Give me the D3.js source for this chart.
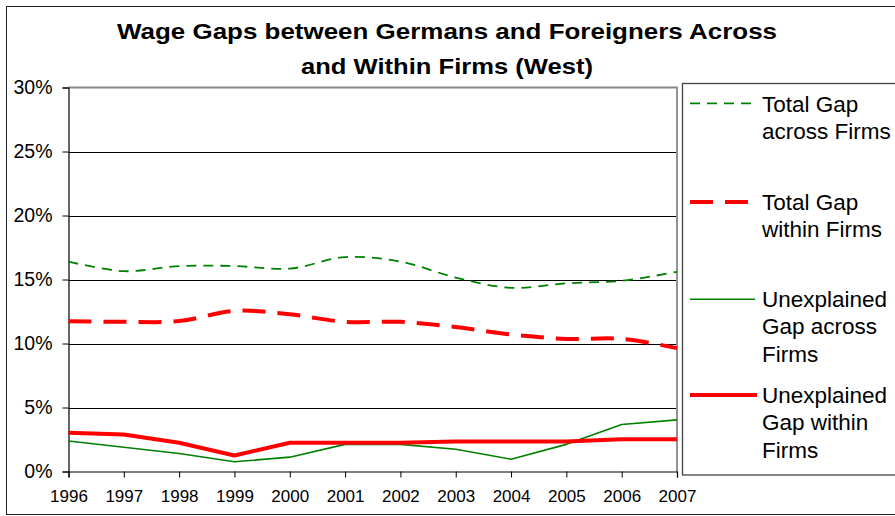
<!DOCTYPE html>
<html>
<head>
<meta charset="utf-8">
<script src="https://cdn.jsdelivr.net/npm/d3@7"></script>
<style>
  html, body { margin: 0; padding: 0; background: #fff; }
  svg { display: block; }
  text { font-family: "Liberation Sans", Arial, sans-serif; fill: #000; }
</style>
</head>
<body>
<svg id="chart" width="895" height="516"></svg>
<script>
const years = [1996, 1997, 1998, 1999, 2000, 2001, 2002, 2003, 2004, 2005, 2006, 2007];
const totalGapAcross = [16.4, 15.65, 16.05, 16.05, 15.85, 16.75, 16.4, 15.15, 14.35, 14.7, 14.9, 15.6];
const totalGapWithin = [11.74, 11.69, 11.75, 12.55, 12.28, 11.69, 11.69, 11.29, 10.7, 10.36, 10.36, 9.64];
const unexplainedAcross = [2.38, 1.9, 1.41, 0.76, 1.12, 2.12, 2.12, 1.74, 0.96, 2.12, 3.67, 4.03];
const unexplainedWithin = [3.02, 2.89, 2.25, 1.25, 2.25, 2.25, 2.25, 2.35, 2.35, 2.35, 2.51, 2.51];
const yTicks = [0, 5, 10, 15, 20, 25, 30];
const titleLines = ["Wage Gaps between Germans and Foreigners Across", "and Within Firms (West)"];
const seriesNames = [
  ["Total Gap", "across Firms"],
  ["Total Gap", "within Firms"],
  ["Unexplained", "Gap across", "Firms"],
  ["Unexplained", "Gap within", "Firms"]
];

(function () {
const series = [
  { values: totalGapAcross, color: "#008000", width: 1.8, dash: "10,7", smooth: true },
  { values: totalGapWithin, color: "#ff0000", width: 4, dash: "23,12", smooth: true },
  { values: unexplainedAcross, color: "#008000", width: 1.6, dash: null, smooth: false },
  { values: unexplainedWithin, color: "#ff0000", width: 4, dash: null, smooth: false }
];

const svg = d3.select("#chart");

// outer chart border
svg.append("rect").attr("x", 6.5).attr("y", 6.5).attr("width", 900).attr("height", 508)
  .attr("fill", "none").attr("stroke", "#222").attr("stroke-width", 1);

const pLeft = 68.5, pRight = 677, pTop = 87.5, pBottom = 471.5;
const x = d3.scaleLinear().domain([years[0], years[years.length - 1]]).range([pLeft, pRight]);
const y = d3.scaleLinear().domain([0, 30]).range([pBottom, pTop]);

// title
const titleG = svg.append("g");
const titleWidths = [660, 292];
const titleBase = [38.5, 74];
titleLines.forEach((t, i) => {
  titleG.append("text")
    .attr("x", 447).attr("y", titleBase[i])
    .attr("text-anchor", "middle")
    .attr("font-size", 21.5).attr("font-weight", "bold")
    .attr("textLength", titleWidths[i]).attr("lengthAdjust", "spacingAndGlyphs")
    .text(t);
});

// gridlines
svg.append("g").selectAll("line").data(yTicks.filter(d => d > 0 && d < 30)).join("line")
  .attr("x1", pLeft).attr("x2", pRight)
  .attr("y1", d => Math.round(y(d)) + 0.5).attr("y2", d => Math.round(y(d)) + 0.5)
  .attr("stroke", "#000").attr("stroke-width", 1);

// plot border (top, right) gray
svg.append("path")
  .attr("d", `M${pLeft},${y(30)}H${pRight}V${pBottom}`)
  .attr("fill", "none").attr("stroke", "#888").attr("stroke-width", 1.8);

// y axis
const yAxis = d3.axisLeft(y).tickValues(yTicks).tickFormat(d => d + "%").tickSize(6).tickPadding(10);
const gy = svg.append("g").attr("transform", `translate(${pLeft},0)`).call(yAxis);
gy.select(".domain").attr("stroke", "#000").attr("stroke-width", 1.2);
gy.selectAll(".tick line").attr("stroke", "#000");
gy.selectAll(".tick text").attr("font-size", 19.5).attr("font-family", '"Liberation Sans", Arial, sans-serif').attr("fill", "#000");

// x axis
const xAxis = d3.axisBottom(x).tickValues(years).tickFormat(d3.format("d")).tickSize(6).tickPadding(12);
const gx = svg.append("g").attr("transform", `translate(0,${pBottom})`).call(xAxis);
gx.select(".domain").attr("stroke", "#000").attr("stroke-width", 1.2);
gx.selectAll(".tick line").attr("stroke", "#000");
gx.selectAll(".tick text").attr("font-size", 17).attr("font-family", '"Liberation Sans", Arial, sans-serif').attr("fill", "#000");

// lines
series.forEach(s => {
  const line = d3.line()
    .x((d, i) => x(years[i]))
    .y(d => y(d))
    .curve(s.smooth ? d3.curveCatmullRom.alpha(0.5) : d3.curveLinear);
  svg.append("path")
    .datum(s.values)
    .attr("d", line)
    .attr("fill", "none")
    .attr("stroke", s.color)
    .attr("stroke-width", s.width)
    .attr("stroke-dasharray", s.dash)
    .attr("stroke-linejoin", "round");
});

// legend
svg.append("rect").attr("x", 682.5).attr("y", 83.5).attr("width", 230).attr("height", 391.5)
  .attr("fill", "#fff").attr("stroke", "#444").attr("stroke-width", 1.3);

const legBase = [111.5, 209.5, 306.5, 402.5];
const legLineY = [103.3, 202, 299.3, 395];
const legLineEnd = [755, 749, 755, 757];
series.forEach((s, i) => {
  svg.append("line")
    .attr("x1", 690).attr("x2", legLineEnd[i])
    .attr("y1", legLineY[i]).attr("y2", legLineY[i])
    .attr("stroke", s.color).attr("stroke-width", s.width)
    .attr("stroke-dasharray", s.dash);
  const t = svg.append("text").attr("x", 762).attr("y", legBase[i]).attr("font-size", 22.5);
  seriesNames[i].forEach((ln, j) => {
    t.append("tspan").attr("x", 762).attr("y", legBase[i] + j * 27.5).text(ln);
  });
});
})();
</script>
</body>
</html>
